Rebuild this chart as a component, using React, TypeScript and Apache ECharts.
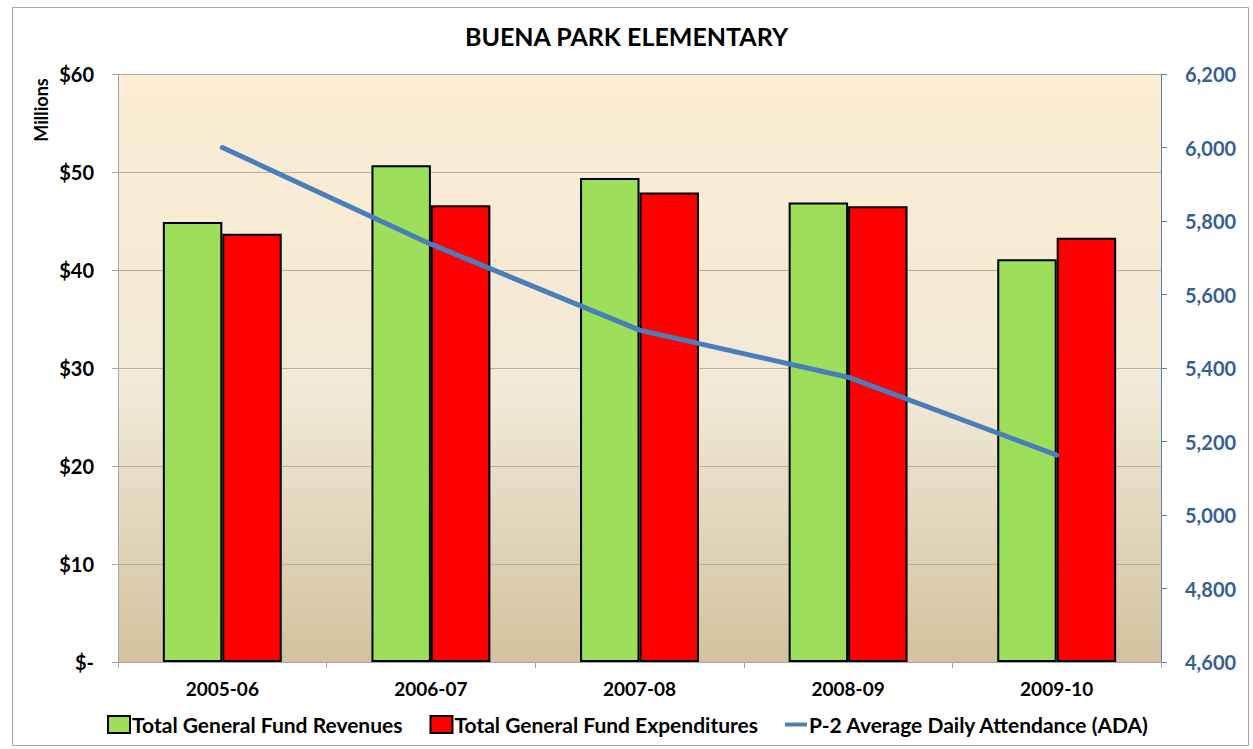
import React, { useEffect, useRef } from "react";
import * as echarts from "echarts";

const categories = ["2005-06", "2006-07", "2007-08", "2008-09", "2009-10"];
const revenues = [44.9, 50.7, 49.4, 46.9, 41.1];
const expenditures = [43.7, 46.6, 47.9, 46.5, 43.3];
const ada = [6000, 5737, 5503, 5375, 5163];
const seriesNames = [
  "Total General Fund Revenues",
  "Total General Fund Expenditures",
  "P-2 Average Daily Attendance (ADA)",
];

const FONT = "Lato, 'Open Sans', sans-serif";

export default function App() {
  const ref = useRef<HTMLDivElement>(null);
  useEffect(() => {
    document.body.style.margin = "0";
    const chart = echarts.init(ref.current!, undefined, { renderer: "svg" });
    chart.setOption({
      animation: false,
      backgroundColor: "#ffffff",
      textStyle: { fontFamily: FONT },
      title: {
        text: "BUENA PARK ELEMENTARY",
        left: "center",
        top: 18,
        textStyle: { fontFamily: FONT, fontWeight: "bold", fontSize: 25, color: "#000" },
      },
      graphic: [
        {
          type: "rect",
          shape: { x: 12.5, y: 7.5, width: 1236, height: 738 },
          style: { fill: "none", stroke: "#A6A6A6", lineWidth: 1 },
          silent: true,
        },
        {
          type: "text",
          x: 41,
          y: 110,
          rotation: Math.PI / 2,
          style: {
            text: "Millions",
            fontFamily: FONT,
            fontWeight: "bold",
            fontSize: 18,
            fill: "#000",
            align: "center",
            verticalAlign: "middle",
          },
        },
      ],
      legend: {
        left: 107,
        top: 714,
        padding: 0,
        itemWidth: 22,
        itemHeight: 17,
        itemGap: 27,
        textStyle: { fontFamily: FONT, fontWeight: "bold", fontSize: 21, color: "#000", padding: [0, 0, 0, -3] },
        data: [
          { name: seriesNames[0], icon: "rect" },
          { name: seriesNames[1], icon: "rect" },
          { name: seriesNames[2], icon: "path://M0,0h28v5h-28z" },
        ],
      },
      grid: {
        left: 118,
        right: 92,
        top: 74,
        bottom: 87,
        show: true,
        borderWidth: 0,
        backgroundColor: new echarts.graphic.LinearGradient(0, 0, 0, 1, [
          { offset: 0, color: "#FCEDD3" },
          { offset: 0.55, color: "#F1E9D6" },
          { offset: 1, color: "#D2C29E" },
        ]),
      },
      xAxis: {
        type: "category",
        data: categories,
        axisLine: { lineStyle: { color: "#A6A6A6", width: 1 } },
        axisTick: { show: true, length: 6, lineStyle: { color: "#A6A6A6" } },
        axisLabel: { fontFamily: FONT, fontWeight: "bold", fontSize: 19, color: "#000", margin: 17 },
      },
      yAxis: [
        {
          type: "value",
          min: 0,
          max: 60,
          interval: 10,
          axisLine: { show: true, lineStyle: { color: "#A6A6A6" } },
          axisTick: { show: true, length: 6, lineStyle: { color: "#A6A6A6" } },
          splitLine: { lineStyle: { color: "#B7AE9C", width: 1 } },
          axisLabel: {
            fontFamily: FONT,
            fontWeight: "bold",
            fontSize: 20,
            color: "#000",
            margin: 24,
            formatter: (v: number) => (v === 0 ? "$-" : "$" + v),
          },
        },
        {
          type: "value",
          min: 4600,
          max: 6200,
          interval: 200,
          position: "right",
          axisLine: { show: true, lineStyle: { color: "#4F81BD", width: 1 } },
          axisTick: { show: true, length: 6, lineStyle: { color: "#4F81BD" } },
          splitLine: { show: false },
          axisLabel: {
            fontFamily: FONT,
            fontWeight: "bold",
            fontSize: 20,
            color: "#376092",
            margin: 24,
            formatter: (v: number) => v.toLocaleString("en-US"),
          },
        },
      ],
      series: [
        {
          name: seriesNames[0],
          type: "bar",
          data: revenues,
          barGap: "0%",
          barCategoryGap: "43%",
          itemStyle: { color: "#9DDE5A", borderColor: "#000", borderWidth: 2 },
        },
        {
          name: seriesNames[1],
          type: "bar",
          data: expenditures,
          itemStyle: { color: "#FF0000", borderColor: "#000", borderWidth: 2 },
        },
        {
          name: seriesNames[2],
          type: "line",
          yAxisIndex: 1,
          data: ada,
          symbol: "none",
          lineStyle: { color: "#4A7EBB", width: 5, cap: "round" },
          itemStyle: { color: "#4A7EBB" },
        },
      ],
    });
    return () => chart.dispose();
  }, []);
  return <div ref={ref} style={{ width: 1253, height: 749 }} />;
}
